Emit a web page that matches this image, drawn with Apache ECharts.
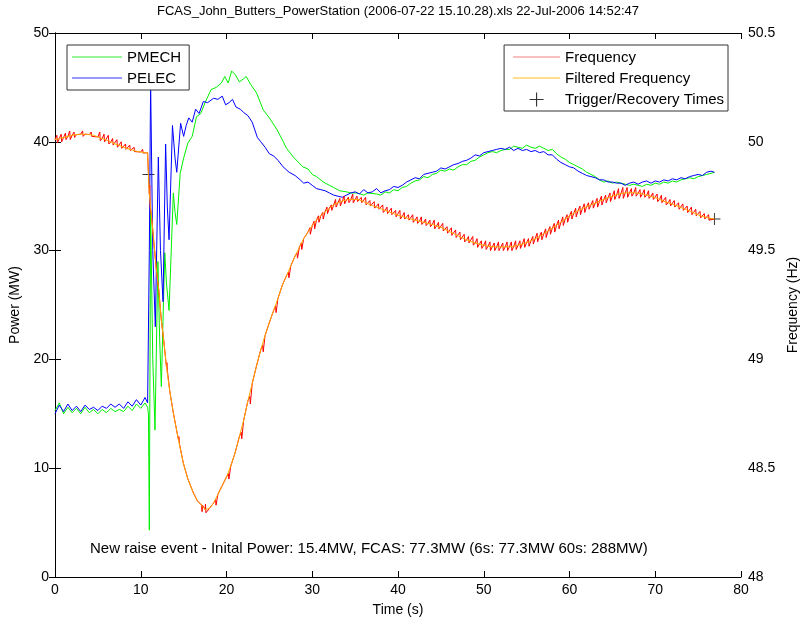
<!DOCTYPE html>
<html><head><meta charset="utf-8">
<script src="https://cdn.jsdelivr.net/npm/echarts@6/dist/echarts.min.js"></script>
<style>html,body{margin:0;padding:0;background:#fff}#c{width:801px;height:618px}</style>
</head><body><div id="c"></div>
<script>
const titleText = 'FCAS_John_Butters_PowerStation (2006-07-22 15.10.28).xls 22-Jul-2006 14:52:47';
const noteText = 'New raise event - Inital Power: 15.4MW, FCAS: 77.3MW (6s: 77.3MW 60s: 288MW)';
const xTicks = [0, 10, 20, 30, 40, 50, 60, 70, 80];
const powerTicks = [0, 10, 20, 30, 40, 50];
const freqTicks = [48, 48.5, 49, 49.5, 50, 50.5];

const pmech = [[0,15.3],[0.5,16.0],[1,15.0],[1.5,15.6],[2,15.1],[2.5,15.5],[3,15.0],[3.5,15.6],[4,15.1],[4.5,15.4],[5,15.0],[5.5,15.4],[6,15.1],[6.5,15.5],[7,15.2],[7.5,15.4],[8,15.2],[8.5,15.7],[9,15.3],[9.5,15.9],[10,15.5],[10.5,16.0],[10.8,15.6],
[10.9,15.0],[11.0,4.3],[11.15,33.7],[11.4,20],[11.66,13.5],[12.0,29],[12.2,22],[12.4,17.5],[12.8,29.8],[13.0,27],[13.3,24.5],[13.8,35.3],[14.0,33.5],[14.2,32.4],[14.6,37.1],[15.0,38.5],[15.5,39.9],[16.0,40.5],[16.5,42.3],[17.0,42.6],[17.5,43.6],[18.2,44.8],[18.8,45.0],[19.4,45.4],[19.8,46.0],[20.2,45.4],[20.6,46.5],[21.0,46.2],[21.5,45.5],[22.0,45.8],[22.3,46.0],[22.8,45.3],[23.5,44.5],[24.3,42.9],[25.0,42.2],[25.9,41.1],[26.5,40.2],[27.0,39.4],[27.8,38.6],[28.9,37.7],[29.5,37.5],[30,37.0],[30.5,36.8],[31.3,36.3],[32,36.0],[32.5,35.8],[33.2,35.5],[34,35.4],[34.5,35.3],[35.2,35.3],[36,35.1],[36.5,35.3],[37.5,35.2],[38,35.1],[38.5,35.4],[39,35.3],[39.5,35.6],[40,35.5],[40.5,35.8],[41,35.9],[41.5,36.2],[42,36.4],[42.5,36.5],[43,36.8],[43.5,36.7],[44,37.0],[44.5,37.1],[45,37.4],[45.5,37.3],[46,37.5],[46.5,37.4],[47,37.7],[47.5,37.9],[48,37.9],[48.5,38.2],[49,38.3],[49.5,38.6],[50,38.8],[50.5,39.0],[51,39.1],[51.5,39.0],[52,39.2],[52.5,39.3],[53,39.3],[53.5,39.6],[54,39.5],[54.5,39.4],[55,39.7],[55.5,39.5],[56,39.4],[56.5,39.6],[57,39.4],[57.5,39.2],[58,39.3],[58.5,38.9],[59,38.6],[59.5,38.4],[60,38.1],[60.5,37.9],[61,37.7],[61.5,37.5],[62,37.2],[62.5,37.0],[63,36.8],[63.5,36.5],[64,36.3],[64.5,36.4],[65,36.2],[65.5,36.3],[66,36.2],[66.5,36.1],[67,36.0],[67.5,36.1],[68,36.0],[68.5,35.9],[69,36.1],[69.5,36.0],[70,36.2],[70.5,36.1],[71,36.3],[71.5,36.2],[72,36.4],[72.5,36.3],[73,36.5],[73.5,36.6],[74,36.7],[74.5,36.6],[75,36.8],[75.5,36.9],[76,37.0],[76.5,37.1],[76.9,37.2]];

const pelec = [[0,15.0],[0.5,15.8],[1,15.2],[1.5,15.9],[2,15.3],[2.5,15.7],[3,15.2],[3.5,15.8],[4,15.4],[4.5,15.6],[5,15.3],[5.5,15.7],[6,15.5],[6.5,15.9],[7,15.6],[7.5,15.9],[8,15.5],[8.5,16.1],[9,15.7],[9.5,16.3],[10,15.8],[10.5,16.5],[10.8,16.0],
[10.9,16.0],[11.0,30],[11.15,45.5],[11.4,30],[11.7,23],[12.05,38.6],[12.3,30],[12.6,25.3],[12.9,39.8],[13.1,34],[13.3,31],[13.7,41.5],[14.0,38.5],[14.2,37.2],[14.65,41.7],[15.0,40.5],[15.3,41.5],[15.6,42.2],[16.0,41.8],[16.4,43.0],[16.8,42.6],[17.3,43.7],[17.8,43.6],[18.5,44.0],[19.0,43.9],[19.5,44.2],[19.9,43.4],[20.3,43.6],[20.7,43.9],[21.1,43.2],[21.6,43.0],[22.0,42.7],[22.5,42.4],[23.0,41.8],[23.6,40.4],[24.0,40.0],[24.5,39.5],[25.0,38.9],[25.5,38.7],[26.0,38.3],[26.6,37.7],[27.3,37.2],[28.0,36.9],[28.6,36.5],[29.0,36.2],[29.5,36.3],[30.0,36.0],[30.5,35.7],[31.0,35.6],[31.5,35.5],[32.0,35.3],[32.5,35.1],[33.0,35.0],[33.5,34.9],[34.0,35.1],[34.5,35.3],[35.0,35.4],[35.5,35.2],[36,35.6],[36.5,35.3],[37,35.4],[37.5,35.7],[38,35.3],[38.5,35.5],[39,35.6],[39.5,35.9],[40,35.8],[40.5,36.0],[41,36.3],[41.5,36.5],[42,36.7],[42.5,36.6],[43,37.0],[43.5,37.1],[44,37.2],[44.5,37.3],[45,37.6],[45.5,37.5],[46,37.7],[46.5,37.9],[47,38.0],[47.5,38.2],[48,38.3],[48.5,38.5],[49,38.8],[49.5,38.7],[50,39.0],[50.5,39.1],[51,39.2],[51.5,39.3],[52,39.4],[52.5,39.3],[53,39.5],[53.5,39.2],[54,39.4],[54.5,39.2],[55,39.3],[55.5,39.1],[56,39.2],[56.5,39.0],[57,39.1],[57.5,38.8],[58,38.8],[58.5,38.4],[59,38.1],[59.5,37.9],[60,37.7],[60.5,37.6],[61,37.3],[61.5,37.1],[62,36.9],[62.5,36.8],[63,36.7],[63.5,36.5],[64,36.5],[64.5,36.3],[65,36.3],[65.5,36.2],[66,36.2],[66.5,36.0],[67,36.2],[67.5,36.3],[68,36.1],[68.5,36.3],[69,36.4],[69.5,36.2],[70,36.4],[70.5,36.3],[71,36.5],[71.5,36.4],[72,36.6],[72.5,36.5],[73,36.7],[73.5,36.6],[74,36.8],[74.5,36.9],[75,37.0],[75.5,36.9],[76,37.2],[76.5,37.3],[76.9,37.2]];

const freqRaw = [[0,50.01],[0.22,50.03],[0.28,49.995],[0.5,50.015],[0.72,50.035],[0.78,50.0],[1,50.02],[1.22,50.04],[1.28,50.01],[1.5,50.025],[1.72,50.05],[1.78,50.01],[2,50.03],[2.22,50.045],[2.28,50.02],[2.5,50.033],[3,50.035],[3.22,50.05],[3.28,50.025],[3.5,50.035],[4,50.033],[4.22,50.045],[4.28,50.025],[4.5,50.03],[5,50.022],[5.22,50.045],[5.28,50.005],[5.5,50.015],[5.72,50.035],[5.78,50.0],[6,50.008],[6.22,50.03],[6.28,49.99],[6.5,50.0],[6.72,50.015],[6.78,49.985],[7,49.99],[7.22,50.01],[7.28,49.975],[7.5,49.983],[7.72,50.0],[7.78,49.97],[8,49.975],[8.22,49.99],[8.28,49.965],[8.5,49.968],[8.72,49.985],[8.78,49.96],[9,49.962],[9.22,49.975],[9.28,49.955],[9.5,49.957],[10,49.953],[10.22,49.965],[10.28,49.948],[10.5,49.95],[10.8,49.95],
[10.9,49.85],[11.0,49.76],[11.05,49.80],[11.1,49.70],[11.3,49.64],[11.5,49.55],[11.85,49.40],[12.1,49.32],[12.4,49.18],[12.7,49.08],[13.0,48.965],[13.05,48.985],[13.1,48.95],[13.4,48.85],[13.8,48.754],[14.4,48.63],[14.45,48.645],[14.5,48.615],[14.96,48.524],[15.5,48.45],[16.1,48.39],[16.6,48.35],[17.1,48.33],[17.15,48.30],[17.2,48.33],[17.5,48.31],[17.55,48.335],[17.6,48.295],[18.0,48.315],
[18.5,48.34],[18.72,48.355],[18.78,48.33],[19.0,48.38],[19.5,48.42],[20.0,48.46],[20.22,48.475],[20.28,48.45],[20.5,48.51],[21.0,48.57],[21.5,48.645],[21.72,48.665],[21.78,48.635],[22.0,48.72],[22.5,48.81],[22.72,48.83],[22.78,48.795],[23.0,48.89],[23.5,48.97],[24.0,49.045],[24.22,49.065],[24.28,49.035],[24.5,49.11],[25.0,49.17],[25.5,49.225],[25.72,49.245],[25.78,49.215],[26.0,49.28],[26.5,49.34],[27.0,49.385],[27.22,49.40],[27.28,49.375],[27.5,49.43],[28.0,49.475],[28.22,49.49],[28.28,49.465],[28.5,49.515],[28.72,49.535],[28.78,49.505],[29.0,49.555],[29.5,49.585],[29.72,49.605],[29.78,49.575],
[30.0,49.615],[30.22,49.635],[30.28,49.60],[30.5,49.64],[30.72,49.66],[30.78,49.63],[31.0,49.66],[31.22,49.675],[31.28,49.645],[31.5,49.68],[31.72,49.70],[31.78,49.67],[32.0,49.695],[32.22,49.71],[32.28,49.685],[32.5,49.71],[32.72,49.735],[32.78,49.70],[33.0,49.72],[33.22,49.74],[33.28,49.705],[33.5,49.728],[33.72,49.75],[33.78,49.715],[34.0,49.733],[34.22,49.745],[34.28,49.72],[34.5,49.735],[34.72,49.76],[34.78,49.72],[35.0,49.735],[35.22,49.75],[35.28,49.725],[35.5,49.733],[35.72,49.745],[35.78,49.72],[36.0,49.725],[36.22,49.745],[36.28,49.71],[36.5,49.715],[36.72,49.73],[36.78,49.705],[37.0,49.707],[37.22,49.725],[37.28,49.695],[37.5,49.70],[37.72,49.715],[37.78,49.69],[38.0,49.692],[38.22,49.71],[38.28,49.675],[38.5,49.685],[38.72,49.70],[38.78,49.67],[39.0,49.677],[39.22,49.695],[39.28,49.665],[39.5,49.67],[39.72,49.685],[39.78,49.655],[40.0,49.663],[40.22,49.685],[40.28,49.645],[40.5,49.657],[40.72,49.675],[40.78,49.645],[41.0,49.65],[41.22,49.665],[41.28,49.64],[41.5,49.645],[41.72,49.665],[41.78,49.63],[42.0,49.64],[42.22,49.655],[42.28,49.625],[42.5,49.635],[42.72,49.655],[42.78,49.62],[43.0,49.63],[43.22,49.645],[43.28,49.615],[43.5,49.625],[43.72,49.64],[43.78,49.61],[44.0,49.62],[44.22,49.64],[44.28,49.60],[44.5,49.613],[44.72,49.63],[44.78,49.60],[45.0,49.607],[45.22,49.625],[45.28,49.59],[45.5,49.597],[45.72,49.61],[45.78,49.58],[46.0,49.587],[46.22,49.605],[46.28,49.57],[46.5,49.578],[46.72,49.595],[46.78,49.56],[47.0,49.568],[47.22,49.585],[47.28,49.55],[47.5,49.558],[47.72,49.575],[47.78,49.54],[48.0,49.55],[48.22,49.565],[48.28,49.535],[48.5,49.542],[48.72,49.565],[48.78,49.525],[49.0,49.535],[49.22,49.555],[49.28,49.515],[49.5,49.53],[49.72,49.545],[49.78,49.51],[50.0,49.525],[50.22,49.545],[50.28,49.505],[50.5,49.52],[50.72,49.54],[50.78,49.50],[51.0,49.518],[51.22,49.535],[51.28,49.50],[51.5,49.517],[51.72,49.54],[51.78,49.50],[52.0,49.517],[52.22,49.535],[52.28,49.50],[52.5,49.517],[52.72,49.54],[52.78,49.50],[53.0,49.518],[53.22,49.54],[53.28,49.50],[53.5,49.52],[53.72,49.545],[53.78,49.505],[54.0,49.525],[54.22,49.545],[54.28,49.51],[54.5,49.53],[54.72,49.555],[54.78,49.515],[55.0,49.537],[55.22,49.555],[55.28,49.52],[55.5,49.545],[55.72,49.565],[55.78,49.53],[56.0,49.555],[56.22,49.58],[56.28,49.54],[56.5,49.565],[56.72,49.585],[56.78,49.55],[57.0,49.577],[57.22,49.60],[57.28,49.56],[57.5,49.59],[57.72,49.61],[57.78,49.575],[58.0,49.603],[58.22,49.625],[58.28,49.585],[58.5,49.617],[58.72,49.64],[58.78,49.60],[59.0,49.63],[59.22,49.655],[59.28,49.615],[59.5,49.645],[59.72,49.665],[59.78,49.63],[60.0,49.66],[60.22,49.68],[60.28,49.645],[60.5,49.672],[60.72,49.695],[60.78,49.655],[61.0,49.683],[61.22,49.705],[61.28,49.665],[61.5,49.693],[61.72,49.715],[61.78,49.675],[62.0,49.702],[62.22,49.72],[62.28,49.69],[62.5,49.71],[62.72,49.73],[62.78,49.695],[63.0,49.718],[63.22,49.74],[63.28,49.70],[63.5,49.727],[63.72,49.75],[63.78,49.71],[64.0,49.735],[64.22,49.755],[64.28,49.72],[64.5,49.743],[64.72,49.765],[64.78,49.725],[65.0,49.75],[65.22,49.775],[65.28,49.735],[65.5,49.757],[65.72,49.785],[65.78,49.74],[66.0,49.762],[66.22,49.79],[66.28,49.74],[66.5,49.765],[66.72,49.79],[66.78,49.745],[67.0,49.766],[67.22,49.785],[67.28,49.75],[67.5,49.766],[67.72,49.79],[67.78,49.75],[68.0,49.764],[68.22,49.78],[68.28,49.745],[68.5,49.76],[68.72,49.78],[68.78,49.745],[69.0,49.755],[69.22,49.775],[69.28,49.74],[69.5,49.75],[69.72,49.765],[69.78,49.735],[70.0,49.743],[70.22,49.76],[70.28,49.725],[70.5,49.735],[70.72,49.755],[70.78,49.72],[71.0,49.727],[71.22,49.745],[71.28,49.71],[71.5,49.72],[71.72,49.735],[71.78,49.705],[72.0,49.713],[72.22,49.73],[72.28,49.70],[72.5,49.706],[72.72,49.72],[72.78,49.69],[73.0,49.698],[73.22,49.715],[73.28,49.685],[73.5,49.69],[73.72,49.705],[73.78,49.675],[74.0,49.682],[74.22,49.70],[74.28,49.665],[74.5,49.674],[74.72,49.69],[74.78,49.66],[75.0,49.664],[75.22,49.68],[75.28,49.65],[75.5,49.657],[75.72,49.67],[75.78,49.645],[76.0,49.652],[76.22,49.665],[76.28,49.64],[76.5,49.648],[76.9,49.645]];

const freqFiltered = [[0,50.010],[0.5,50.015],[1,50.02],[1.5,50.025],[2,50.03],[2.5,50.033],[3,50.035],[3.5,50.035],[4,50.033],[4.5,50.03],[5,50.022],[5.5,50.015],[6,50.008],[6.5,50.0],[7,49.99],[7.5,49.983],[8,49.975],[8.5,49.968],[9,49.962],[9.5,49.957],[10,49.953],[10.5,49.95],[10.8,49.95],
[10.9,49.85],[11.0,49.76],[11.3,49.64],[11.5,49.55],[11.85,49.40],[12.1,49.32],[12.4,49.18],[12.7,49.08],[13.0,48.965],[13.4,48.85],[13.8,48.754],[14.4,48.63],[14.96,48.524],[15.5,48.45],[16.1,48.39],[16.6,48.35],[17.1,48.33],[17.5,48.31],
[18.0,48.315],[18.5,48.34],[19.0,48.38],[19.5,48.42],[20.0,48.46],[20.5,48.51],[21.0,48.57],[21.5,48.645],[22.0,48.72],[22.5,48.81],[23.0,48.89],[23.5,48.97],[24.0,49.045],[24.5,49.11],[25.0,49.17],[25.5,49.225],[26.0,49.28],[26.5,49.34],[27.0,49.385],[27.5,49.43],[28.0,49.475],[28.5,49.515],[29.0,49.555],[29.5,49.585],[30.0,49.615],[30.5,49.64],[31.0,49.66],[31.5,49.68],[32.0,49.695],[32.5,49.71],[33.0,49.72],[33.5,49.728],[34.0,49.733],[34.5,49.735],[35.0,49.735],[35.5,49.733],[36.0,49.725],[36.5,49.715],[37.0,49.707],[37.5,49.70],[38.0,49.692],[38.5,49.685],[39.0,49.677],[39.5,49.67],[40.0,49.663],[40.5,49.657],[41.0,49.65],[41.5,49.645],[42.0,49.64],[42.5,49.635],[43.0,49.63],[43.5,49.625],[44.0,49.62],[44.5,49.613],[45.0,49.607],[45.5,49.597],[46.0,49.587],[46.5,49.578],[47.0,49.568],[47.5,49.558],[48.0,49.55],[48.5,49.542],[49.0,49.535],[49.5,49.53],[50.0,49.525],[50.5,49.52],[51.0,49.518],[51.5,49.517],[52.0,49.517],[52.5,49.517],[53.0,49.518],[53.5,49.52],[54.0,49.525],[54.5,49.53],[55.0,49.537],[55.5,49.545],[56.0,49.555],[56.5,49.565],[57.0,49.577],[57.5,49.59],[58.0,49.603],[58.5,49.617],[59.0,49.63],[59.5,49.645],[60.0,49.66],[60.5,49.672],[61.0,49.683],[61.5,49.693],[62.0,49.702],[62.5,49.71],[63.0,49.718],[63.5,49.727],[64.0,49.735],[64.5,49.743],[65.0,49.75],[65.5,49.757],[66.0,49.762],[66.5,49.765],[67.0,49.766],[67.5,49.766],[68.0,49.764],[68.5,49.76],[69.0,49.755],[69.5,49.75],[70.0,49.743],[70.5,49.735],[71.0,49.727],[71.5,49.72],[72.0,49.713],[72.5,49.706],[73.0,49.698],[73.5,49.69],[74.0,49.682],[74.5,49.674],[75.0,49.664],[75.5,49.657],[76.0,49.652],[76.5,49.648],[76.9,49.645]];

const triggerTimes = [[10.9, 49.85], [76.9, 49.645]];

const FONT = '"Liberation Sans", Arial, sans-serif';
const plusPath = 'path://M0,4.6H10V5.4H0Z M4.6,0H5.4V10H4.6Z';
const linePath = 'path://M0,0H0.01V0.01H0Z M49.99,13.99H50V14H49.99Z M0,6H50V7H0Z';

const chart = echarts.init(document.getElementById('c'), null, {renderer: 'canvas'});
const axisCommon = {
  axisLine: {show: true, lineStyle: {color: '#000', width: 1}},
  axisTick: {show: true, inside: true, length: 6, lineStyle: {color: '#000'}},
  axisLabel: {color: '#000', fontSize: 14, fontFamily: FONT},
  splitLine: {show: false},
  nameTextStyle: {color: '#000', fontSize: 14, fontFamily: FONT}
};
const legendText = {color: '#000', fontSize: 15, fontFamily: FONT};
const option = {
  animation: false,
  backgroundColor: '#fff',
  textStyle: {fontFamily: FONT},
  grid: {left: 55, right: 60, top: 33, bottom: 41, containLabel: false, outerBoundsMode: 'none'},
  xAxis: [
    Object.assign({}, axisCommon, {type: 'value', min: xTicks[0], max: xTicks[xTicks.length-1], interval: 10, position: 'bottom',
      name: 'Time (s)', nameLocation: 'middle', nameGap: 26,
      axisLabel: Object.assign({}, axisCommon.axisLabel, {margin: 6})}),
    Object.assign({}, axisCommon, {type: 'value', min: xTicks[0], max: xTicks[xTicks.length-1], interval: 10, position: 'top',
      axisLabel: {show: false}})
  ],
  yAxis: [
    Object.assign({}, axisCommon, {type: 'value', min: powerTicks[0], max: powerTicks[powerTicks.length-1], interval: 10, position: 'left',
      name: 'Power (MW)', nameLocation: 'middle', nameGap: 29,
      axisLabel: Object.assign({}, axisCommon.axisLabel, {margin: 6})}),
    Object.assign({}, axisCommon, {type: 'value', min: freqTicks[0], max: freqTicks[freqTicks.length-1], interval: 0.5, position: 'right',
      name: 'Frequency (Hz)', nameLocation: 'middle', nameGap: 44, nameRotate: 90,
      axisLabel: Object.assign({}, axisCommon.axisLabel, {margin: 7})})
  ],
  legend: [
    {data: [{name: 'PMECH', icon: linePath}, {name: 'PELEC', icon: linePath}], orient: 'vertical', left: 67, top: 45,
      backgroundColor: '#fff', borderColor: '#333', borderWidth: 1, borderRadius: 0,
      padding: [5, 8, 4, 5], itemWidth: 50, itemHeight: 14, itemGap: 6, textStyle: legendText},
    {data: [{name: 'Frequency', icon: linePath}, {name: 'Filtered Frequency', icon: linePath}, {name: 'Trigger/Recovery Times', icon: plusPath}],
      orient: 'vertical', right: 73, top: 45,
      backgroundColor: '#fff', borderColor: '#333', borderWidth: 1, borderRadius: 0,
      padding: [5, 4, 4, 9], itemWidth: 47, itemHeight: 14, itemGap: 6, textStyle: legendText}
  ],
  graphic: [
    {type: 'text', x: 398, y: 5, style: {text: titleText, fill: '#000', font: '13px ' + FONT, textAlign: 'center'}},
    {type: 'text', x: 90, y: 541, style: {text: noteText, fill: '#000', font: '15px ' + FONT}}
  ],
  series: [
    {name: 'PMECH', type: 'line', xAxisIndex: 0, yAxisIndex: 0, data: pmech, symbol: 'none', lineStyle: {color: '#00f000', width: 1}, itemStyle: {color: '#33ee33'}},
    {name: 'PELEC', type: 'line', xAxisIndex: 0, yAxisIndex: 0, data: pelec, symbol: 'none', lineStyle: {color: '#0000ff', width: 1}, itemStyle: {color: '#3333ff'}},
    {name: 'Frequency', type: 'line', xAxisIndex: 0, yAxisIndex: 1, data: freqRaw, symbol: 'none', lineStyle: {color: '#ff0000', width: 1}, itemStyle: {color: '#f47f7f'}},
    {name: 'Filtered Frequency', type: 'line', xAxisIndex: 0, yAxisIndex: 1, data: freqFiltered, symbol: 'none', lineStyle: {color: '#ffaa00', width: 1}, itemStyle: {color: '#ffc020'}},
    {name: 'Trigger/Recovery Times', type: 'scatter', xAxisIndex: 0, yAxisIndex: 1, data: triggerTimes, symbol: plusPath, symbolSize: 12, itemStyle: {color: '#000'}}
  ]
};
chart.setOption(option);
</script>
</body></html>
